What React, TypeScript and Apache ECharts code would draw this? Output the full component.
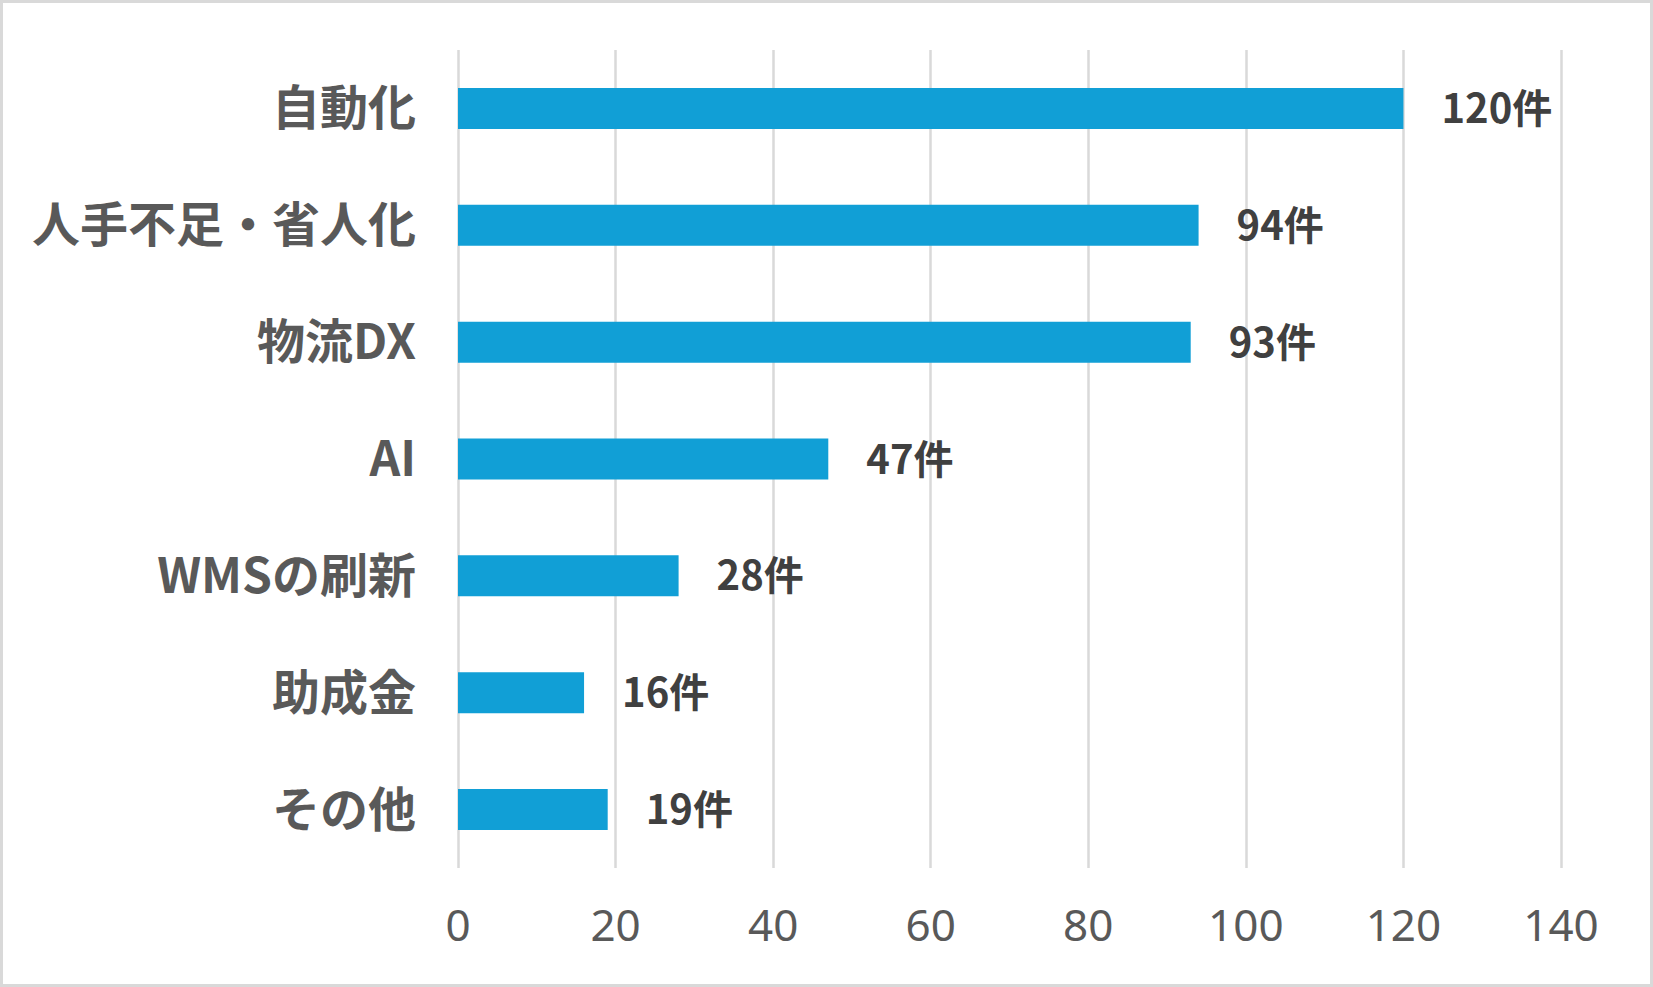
import React, { useEffect, useRef } from "react";
import * as echarts from "echarts";

const categories = ["自動化", "人手不足・省人化", "物流DX", "AI", "WMSの刷新", "助成金", "その他"];
const counts = [120, 94, 93, 47, 28, 16, 19];
const axisMin = 0;
const axisMax = 140;
const axisStep = 20;

export default function App() {
  const ref = useRef<HTMLDivElement>(null);
  useEffect(() => {
    if (!ref.current) return;
    const chart = echarts.init(ref.current, null, { renderer: "svg" });
    chart.setOption({
      animation: false,
      backgroundColor: "#ffffff",
      graphic: [
        {
          type: "rect",
          shape: { x: 1.5, y: 1.5, width: 1650, height: 984 },
          style: { fill: "none", stroke: "#d9d9d9", lineWidth: 3 },
          silent: true,
        },
      ],
      grid: { left: 458, right: 92, top: 50, bottom: 119, containLabel: false },
      xAxis: {
        type: "value",
        min: axisMin,
        max: axisMax,
        interval: axisStep,
        axisLine: { show: false },
        axisTick: { show: false },
        splitLine: { show: true, lineStyle: { color: "#d9d9d9", width: 2.5 } },
        axisLabel: {
          color: "#595959",
          fontSize: 44,
          fontFamily: "Noto Sans, sans-serif",
          margin: 34,
        },
      },
      yAxis: {
        type: "category",
        data: categories,
        inverse: true,
        axisLine: { show: false },
        axisTick: { show: false },
        splitLine: { show: false },
        axisLabel: {
          margin: 42,
          formatter: (v: string) => "{c|" + v + "}",
          rich: {
            c: {
              color: "#595959",
              fontSize: 48,
              fontWeight: "bold",
              fontFamily: "Noto Sans CJK JP, sans-serif",
              padding: [0, 0, 8, 0],
            },
          },
        },
      },
      series: [
        {
          type: "bar",
          data: counts,
          barWidth: 41,
          itemStyle: { color: "#119fd6" },
          label: {
            show: true,
            position: "right",
            distance: 38,
            formatter: "{v|{c}件}",
            rich: {
              v: {
                color: "#404040",
                fontSize: 40,
                fontWeight: "bold",
                fontFamily: "Noto Sans CJK JP, sans-serif",
                padding: [0, 0, 5, 0],
              },
            },
          },
        },
      ],
    });
    return () => chart.dispose();
  }, []);
  return (
    <div
      ref={ref}
      style={{ position: "fixed", left: 0, top: 0, width: 1653, height: 987 }}
    />
  );
}
